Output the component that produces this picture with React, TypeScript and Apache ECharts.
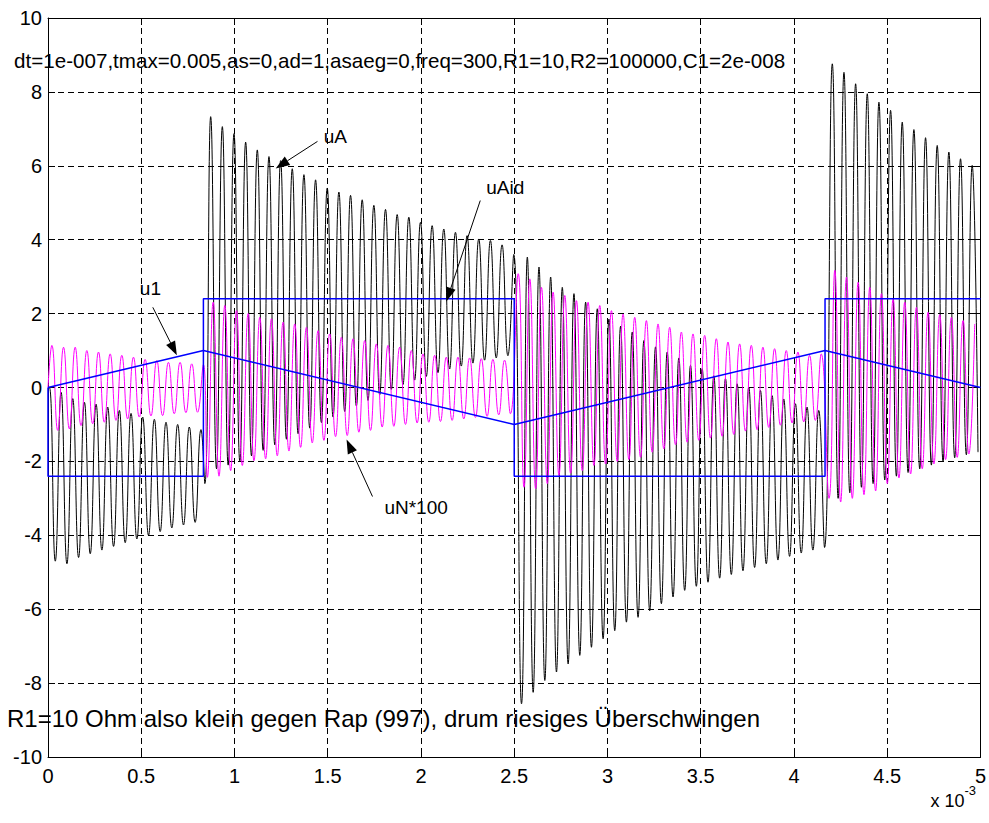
import React, { useEffect, useRef } from "react";
import * as echarts from "echarts";

const FONT = '"Liberation Sans", Arial, Helvetica, sans-serif';

// Time in ms (axis is labelled "x 10^-3" s). Ringing of uA / uN at 16 kHz:
// successive extremes are half a period apart.
const HALF_PERIOD = 0.03125;

// u1: triangular input, 300 Hz
const u1Time = [0, 0.8333, 2.5, 4.1667, 5];
const u1Value = [0, 1, -1, 1, 0];

// uAid: ideal output
const uAidTime = [0, 0, 0.8333, 0.8333, 2.5, 2.5, 4.1667, 4.1667, 5];
const uAidValue = [0, -2.4, -2.4, 2.4, 2.4, -2.4, -2.4, 2.4, 2.4];

// uA: time of the first extreme in each half cycle of u1, then the extremes
const uAStart = [0.0078, 0.8411, 2.5391, 4.2057];
const uASeg1 = [0, -4.7, -0.13, -4.77, -0.3, -4.6, -0.4, -4.5, -0.45, -4.4, -0.53, -4.3, -0.62, -4.2, -0.7, -4.1, -0.8, -4.0, -0.86, -3.9, -0.94, -3.8, -1.0, -3.72, -1.07, -3.65, -1.14];
const uASeg2 = [-2.6, 7.33, -2.2, 7.06, -2.1, 6.87, -2.0, 6.64, -1.85, 6.43, -1.7, 6.25, -1.55, 6.14, -1.4, 5.92, -1.25, 5.76, -1.1, 5.62, -0.95, 5.4, -0.8, 5.29, -0.65, 5.2, -0.5, 5.08, -0.35, 4.93, -0.2, 4.82, -0.05, 4.68, 0.08, 4.61, 0.2, 4.47, 0.3, 4.38, 0.4, 4.29, 0.5, 4.2, 0.58, 4.11, 0.66, 4.02, 0.74, 3.98, 0.8, 3.86, 0.86, 3.6];
const uASeg3 = [-8.56, 3.53, -8.25, 3.26, -7.93, 2.99, -7.7, 2.71, -7.48, 2.54, -7.25, 2.31, -7.03, 2.13, -6.8, 1.85, -6.58, 1.66, -6.35, 1.5, -6.22, 1.27, -6.04, 1.1, -5.85, 0.96, -5.67, 0.8, -5.49, 0.6, -5.38, 0.51, -5.27, 0.32, -5.16, 0.24, -5.06, 0.1, -4.96, 0.01, -4.87, -0.08, -4.77, -0.22, -4.67, -0.31, -4.57, -0.44, -4.48, -0.53, -4.4, -0.62, -4.33];
const uASeg4 = [8.76, -3.0, 8.53, -2.85, 8.22, -2.7, 7.95, -2.6, 7.72, -2.5, 7.5, -2.4, 7.18, -2.3, 6.98, -2.2, 6.76, -2.1, 6.55, -2.0, 6.37, -1.9, 6.19, -1.82, 6.01, -1.75];

// uN*100
const uNStart = [0.0208, 0.8545, 2.5212, 4.188];
const uNSeg1 = [1.14, -1.16, 1.09, -1.12, 1.09, -1.03, 1.0, -0.98, 0.96, -0.94, 0.91, -0.89, 0.87, -0.85, 0.82, -0.8, 0.76, -0.77, 0.73, -0.76, 0.68, -0.71, 0.68, -0.68, 0.64, -0.67, 0.62];
const uNSeg2 = [-2.43, 2.31, -2.4, 2.22, -2.25, 2.08, -2.11, 2.0, -1.98, 1.9, -1.93, 1.86, -1.85, 1.77, -1.72, 1.72, -1.62, 1.63, -1.5, 1.54, -1.43, 1.45, -1.33, 1.36, -1.3, 1.32, -1.21, 1.27, -1.16, 1.18, -1.07, 1.14, -1.05, 1.09, -1.0, 1.0, -0.96, 0.91, -0.94, 0.87, -0.92, 0.82, -0.89, 0.82, -0.85, 0.8, -0.81, 0.78, -0.78, 0.76, -0.74, 0.74, -0.71];
const uNSeg3 = [3.08, -2.7, 2.94, -2.74, 2.71, -2.6, 2.58, -2.38, 2.49, -2.32, 2.35, -2.25, 2.31, -2.11, 2.22, -2.07, 2.08, -2.0, 1.99, -1.95, 1.9, -1.89, 1.81, -1.75, 1.72, -1.66, 1.63, -1.55, 1.5, -1.48, 1.45, -1.43, 1.41, -1.37, 1.32, -1.32, 1.23, -1.27, 1.18, -1.18, 1.14, -1.14, 1.09, -1.08, 1.05, -1.02, 1.0, -0.96, 0.96, -0.93, 0.87, -0.89, 0.91];
const uNSeg4 = [-3.0, 3.17, -3.1, 2.99, -3.0, 2.85, -2.9, 2.71, -2.8, 2.54, -2.6, 2.4, -2.45, 2.31, -2.34, 2.17, -2.2, 2.04, -2.07, 1.97, -1.95, 1.9, -1.89, 1.81, -1.8, 1.72];

// Text annotations placed in data coordinates (t in ms, value)
const annotationText = ["uA", "uAid", "u1", "uN*100"];
const annotationAt = [[1.478, 6.79], [2.35, 5.41], [0.4925, 2.68], [1.804, -3.25]];
const arrowTail = [[1.445, 6.66], [2.318, 5.06], [0.562, 2.17], [1.74, -2.95]];
const arrowHead = [[1.221, 5.93], [2.136, 2.33], [0.691, 0.87], [1.601, -1.41]];

const paramText = "dt=1e-007,tmax=0.005,as=0,ad=1,asaeg=0,freq=300,R1=10,R2=100000,C1=2e-008";
const paramAt = [-0.182, 8.85];
const noteText = "R1=10 Ohm also klein gegen Rap (997), drum riesiges Überschwingen";
const noteAt = [-0.22, -8.96];

function zip(t: number[], v: number[]) {
  return t.map((x, i) => [x, v[i]]);
}

function ringing(starts: number[], segs: number[][], lead: number[][]) {
  const out: number[][] = lead.slice();
  segs.forEach((vals, s) => {
    vals.forEach((v, i) => out.push([starts[s] + i * HALF_PERIOD, v]));
  });
  return out;
}

const dashed = { color: "#000", width: 1, type: [6, 4] as number[] };

function axisX(position: "bottom" | "top") {
  const main = position === "bottom";
  return {
    type: "value" as const,
    position,
    min: 0,
    max: 5,
    interval: 0.5,
    axisLine: { show: true, onZero: false, lineStyle: { color: "#000", width: 1 } },
    axisTick: { show: true, inside: true, length: 7, lineStyle: { color: "#000" } },
    axisLabel: {
      show: main,
      color: "#000",
      fontSize: 20,
      fontFamily: FONT,
      margin: 9,
      formatter: (v: number) => String(v),
    },
    splitLine: { show: main, lineStyle: dashed },
  };
}

function axisY(position: "left" | "right") {
  const main = position === "left";
  return {
    type: "value" as const,
    position,
    min: -10,
    max: 10,
    interval: 2,
    axisLine: { show: true, onZero: false, lineStyle: { color: "#000", width: 1 } },
    axisTick: { show: true, inside: true, length: 7, lineStyle: { color: "#000" } },
    axisLabel: {
      show: main,
      color: "#000",
      fontSize: 20,
      fontFamily: FONT,
      margin: 6,
    },
    splitLine: { show: main, lineStyle: dashed },
  };
}

function lineSeries(name: string, data: number[][], color: string, width: number, z: number, smooth = false) {
  return {
    name,
    type: "line" as const,
    data,
    showSymbol: false,
    symbol: "none",
    silent: true,
    smooth,
    z,
    lineStyle: { color, width },
    itemStyle: { color },
    clip: true,
  };
}

export default function App() {
  const ref = useRef<HTMLDivElement>(null);

  useEffect(() => {
    const el = ref.current;
    if (!el) return;
    const chart = echarts.init(el, null, { renderer: "svg" });

    const uA = ringing(uAStart, [uASeg1, uASeg2, uASeg3, uASeg4], [[0, 0]]);
    const uN = ringing(uNStart, [uNSeg1, uNSeg2, uNSeg3, uNSeg4], [[0, 0]]);

    chart.setOption({
      animation: false,
      backgroundColor: "#fff",
      grid: { left: 48, right: 7, top: 18, bottom: 66, containLabel: false },
      xAxis: [axisX("bottom"), axisX("top")],
      yAxis: [axisY("left"), axisY("right")],
      series: [
        lineSeries("uA", uA, "#000000", 1, 2, true),
        lineSeries("uN*100", uN, "#ff00ff", 1, 3, true),
        lineSeries("uAid", zip(uAidTime, uAidValue), "#0000ff", 1.5, 4),
        lineSeries("u1", zip(u1Time, u1Value), "#0000ff", 1.5, 4),
      ],
    });

    const px = (p: number[]) => chart.convertToPixel({ gridIndex: 0 }, p) as number[];
    const graphics: any[] = [];

    const addText = (text: string, at: number[], size: number) => {
      const [x, y] = px(at);
      graphics.push({
        type: "text",
        x,
        y,
        z: 100,
        style: { text, fill: "#000", fontSize: size, fontFamily: FONT, align: "left", verticalAlign: "middle" },
      });
    };

    annotationText.forEach((t, i) => {
      addText(t, annotationAt[i], 19);
      const [x1, y1] = px(arrowTail[i]);
      const [x2, y2] = px(arrowHead[i]);
      const dx = x2 - x1;
      const dy = y2 - y1;
      const len = Math.hypot(dx, dy);
      const ux = dx / len;
      const uy = dy / len;
      const headLen = 14;
      const headHalf = 5;
      const bx = x2 - ux * headLen;
      const by = y2 - uy * headLen;
      graphics.push({
        type: "line",
        z: 100,
        shape: { x1, y1, x2: bx, y2: by },
        style: { stroke: "#000", lineWidth: 1 },
      });
      graphics.push({
        type: "polygon",
        z: 100,
        shape: {
          points: [
            [x2, y2],
            [bx - uy * headHalf, by + ux * headHalf],
            [bx + uy * headHalf, by - ux * headHalf],
          ],
        },
        style: { fill: "#000" },
      });
    });

    addText(paramText, paramAt, 20.6);
    addText(noteText, noteAt, 24);

    // exponent of the time axis
    const [ex, ey] = px([5, -10]);
    graphics.push({
      type: "text",
      x: ex - 50,
      y: ey + 44,
      z: 100,
      style: { text: "x 10", fill: "#000", fontSize: 18, fontFamily: FONT, align: "left", verticalAlign: "middle" },
    });
    graphics.push({
      type: "text",
      x: ex - 16,
      y: ey + 33,
      z: 100,
      style: { text: "-3", fill: "#000", fontSize: 13, fontFamily: FONT, align: "left", verticalAlign: "middle" },
    });

    chart.setOption({ graphic: graphics });

    return () => chart.dispose();
  }, []);

  return (
    <div
      ref={ref}
      style={{ position: "absolute", left: 0, top: 0, width: 989, height: 823, background: "#fff" }}
    />
  );
}
